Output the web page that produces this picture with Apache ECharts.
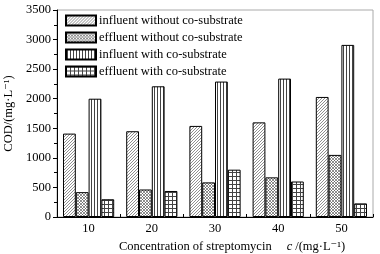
<!DOCTYPE html>
<html>
<head>
<meta charset="utf-8">
<script src="https://cdn.jsdelivr.net/npm/echarts@6/dist/echarts.min.js"></script>
<style>
  html, body { margin: 0; padding: 0; background: #fff; }
  #chart { width: 380px; height: 254px; }
</style>
</head>
<body>
<div id="chart"></div>
<script>
// data
const concentrations = ['10', '20', '30', '40', '50']
const influentWithout = [1410, 1450, 1540, 1600, 2030]
const effluentWithout = [420, 465, 585, 670, 1050]
const influentWith = [2000, 2210, 2290, 2340, 2910]
const effluentWith = [300, 440, 800, 600, 230]
const seriesNames = [
  'influent without co-substrate',
  'effluent without co-substrate',
  'influent with co-substrate',
  'effluent with co-substrate'
]

const FONT = '"Liberation Serif", "DejaVu Serif", serif'

// hatch fills drawn on small canvases
function makePattern(type) {
  const size = type === 'grid' ? 4 : 3
  const c = document.createElement('canvas')
  c.width = size
  c.height = size
  const ctx = c.getContext('2d')
  ctx.fillStyle = '#fff'
  ctx.fillRect(0, 0, size, size)
  ctx.strokeStyle = '#444'
  ctx.lineWidth = 0.6
  ctx.beginPath()
  if (type === 'diag') {
    ctx.moveTo(0, size); ctx.lineTo(size, 0)
    ctx.moveTo(-1, 1); ctx.lineTo(1, -1)
    ctx.moveTo(size - 1, size + 1); ctx.lineTo(size + 1, size - 1)
  } else if (type === 'cross') {
    ctx.moveTo(0, 0); ctx.lineTo(size, size)
    ctx.moveTo(0, size); ctx.lineTo(size, 0)
  } else if (type === 'vert') {
    ctx.lineWidth = 1
    ctx.moveTo(1.5, 0); ctx.lineTo(1.5, size)
  } else {
    ctx.lineWidth = 1
    ctx.moveTo(0.5, 0); ctx.lineTo(0.5, size)
    ctx.moveTo(0, 0.5); ctx.lineTo(size, 0.5)
  }
  ctx.stroke()
  return { image: c, repeat: 'repeat' }
}

const patterns = [makePattern('diag'), makePattern('cross'), makePattern('vert'), makePattern('grid')]
const values = [influentWithout, effluentWithout, influentWith, effluentWith]

const chart = echarts.init(document.getElementById('chart'))

const option = {
  animation: false,
  backgroundColor: '#fff',
  textStyle: { fontFamily: FONT, color: '#000' },
  grid: {
    left: 57,
    right: 7,
    top: 10,
    bottom: 37,
    outerBoundsMode: 'none',
    containLabel: false,
    show: true,
    borderColor: '#aaa',
    borderWidth: 1
  },
  legend: {
    orient: 'vertical',
    left: 60,
    top: 9,
    icon: 'rect',
    itemWidth: 30,
    itemHeight: 10,
    itemGap: 4,
    textStyle: { fontFamily: FONT, fontSize: 12.5, color: '#000', padding: [0, 0, 0, -2] },
    data: seriesNames
  },
  xAxis: {
    type: 'category',
    data: concentrations,
    axisLine: { lineStyle: { color: '#000', width: 1 } },
    axisTick: { show: true, inside: true, length: 3, lineStyle: { color: '#000' } },
    axisLabel: { fontFamily: FONT, fontSize: 12.5, color: '#000', margin: 5 },
    name: '{n|Concentration of streptomycin}     {i|c} {n|/(mg·L⁻¹)}',
    nameLocation: 'middle',
    nameGap: 23,
    nameTextStyle: {
      padding: [0, 0, 0, 34],
      rich: {
        n: { fontFamily: FONT, fontSize: 12.5, color: '#000' },
        i: { fontFamily: FONT, fontSize: 12.5, color: '#000', fontStyle: 'italic' }
      }
    }
  },
  yAxis: {
    type: 'value',
    min: 0,
    max: 3500,
    interval: 500,
    splitLine: { show: false },
    axisLine: { show: true, lineStyle: { color: '#000', width: 1 } },
    axisTick: { show: true, length: 4, lineStyle: { color: '#000' } },
    minorTick: { show: true, splitNumber: 2, length: 3, lineStyle: { color: '#000' } },
    axisLabel: {
      fontFamily: FONT, fontSize: 12.5, color: '#000', margin: 6,
      formatter: v => String(v)
    },
    name: 'COD/(mg·L⁻¹)',
    nameLocation: 'middle',
    nameGap: 33,
    nameTextStyle: { fontFamily: FONT, fontSize: 12.5, color: '#000' }
  },
  series: seriesNames.map((name, i) => ({
    name: name,
    type: 'bar',
    data: values[i],
    barGap: '0%',
    barCategoryGap: '19%',
    itemStyle: {
      color: patterns[i],
      borderColor: '#000',
      borderWidth: 1
    }
  }))
}

chart.setOption(option)
</script>
</body>
</html>
